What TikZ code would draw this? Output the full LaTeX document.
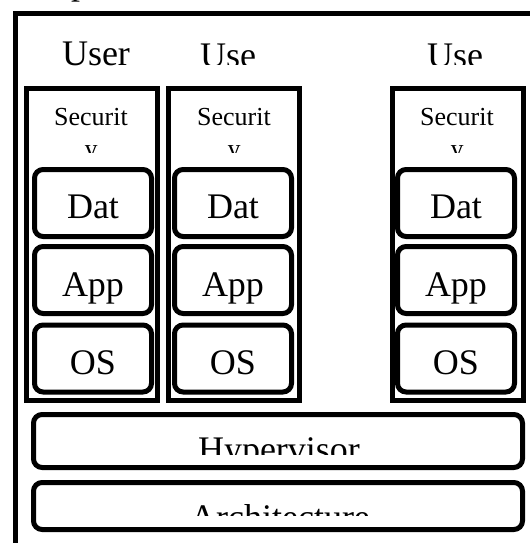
\documentclass[tikz,border=0pt]{standalone}
\usepackage{fontspec}
\setmainfont{Liberation Serif}
\begin{document}
\begin{tikzpicture}[x=0.75pt,y=-0.75pt,
  vmbox/.style={draw=black,line width=3.75pt,fill=white,rectangle,inner sep=0pt,minimum width=98.25pt,minimum height=234pt},
  layerbox/.style={draw=black,line width=3.75pt,fill=white,rectangle,rounded corners=6.5pt,inner sep=0pt},
  small/.style={minimum width=87.75pt,minimum height=50.25pt},
  big/.style={minimum width=366.75pt},
  bigtxt/.style={font=\fontsize{27}{27}\selectfont,anchor=base,inner sep=0pt},
  sectxt/.style={font=\fontsize{19.5}{19.5}\selectfont,anchor=base,inner sep=0pt}]
\useasboundingbox (0,0) rectangle (530,543);
\fill[white] (0,0) rectangle (530,543);
\begin{scope}
\clip (0,0) rectangle (530,543);
\node[bigtxt] (cap) at (80,-6) {p};
\node[draw=black,line width=3.75pt,rectangle,inner sep=0pt,minimum width=600pt,minimum height=450pt,anchor=north west] (host) at (12.5,10.5) {};
\end{scope}
% virtual machines
\foreach \n/\vx/\lx/\tx/\ux/\word/\ub/\uc in {a/92/93/91/96/User/65/72,b/234/233/234/228/Use/67/64.5,c/457.5/456/457/455/Use/67/64.5}{
  \node[vmbox] (vm\n) at (\vx,244.5) {};
  \begin{scope}
    \clip (\vx-60,30) rectangle (\vx+60,\uc);
    \node[bigtxt] (user\n) at (\ux,\ub) {\word};
  \end{scope}
  \begin{scope}
    \clip (\vx-60,100) rectangle (\vx+60,152);
    \node[sectxt] (sec\n) at (\tx,125) {Securit};
    \node[sectxt] (secy\n) at (\tx,157) {y};
  \end{scope}
  \node[layerbox,small] (dat\n) at (\lx,203) {};
  \node[layerbox,small] (app\n) at (\lx,280) {};
  \node[layerbox,small] (os\n) at (\lx,358.5) {};
  \node[bigtxt] (datt\n) at (\lx,218) {Dat};
  \node[bigtxt] (appt\n) at (\lx,296) {App};
  \node[bigtxt] (ost\n) at (\lx,374) {OS};
}
% shared layers
\node[layerbox,big,minimum height=39.75pt] (hyp) at (278,441) {};
\node[layerbox,big,minimum height=35.25pt] (arch) at (278,506) {};
\begin{scope}
  \clip (40,425) rectangle (515,454);
  \node[bigtxt] (hypt) at (279,461) {Hypervisor};
\end{scope}
\begin{scope}
  \clip (40,490) rectangle (515,515);
  \node[bigtxt] (archt) at (280,529) {Architecture};
\end{scope}
\end{tikzpicture}
\end{document}
